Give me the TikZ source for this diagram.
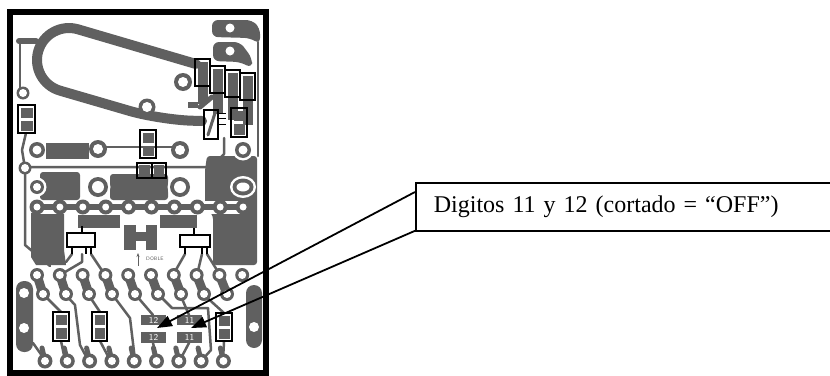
\documentclass[tikz,border=0pt]{standalone}
\usepackage{fontspec}
\setmainfont{Liberation Serif}
\usetikzlibrary{arrows.meta}
\definecolor{pcbgray}{RGB}{96,96,96}
\tikzset{
  track/.style={draw=pcbgray, line width=#1, line cap=round, line join=round},
  track/.default=2.5pt,
  partbox/.style={draw=black, line width=1.6pt},
  pointer/.style={draw=black, line width=1.8pt, -{Triangle[length=15pt,width=11pt]}},
  padtext/.style={text=white, font=\sffamily\fontsize{9}{9}\selectfont, inner sep=0pt},
}
% pad: gray ring (#3) and white hole (#4)
\newcommand{\pcbpad}[4]{%
  \fill[pcbgray] (#1,#2) circle (#3);
  \fill[white] (#1,#2) circle (#4);}
% pad with white clearance, for pads inside the copper pour
\newcommand{\pourpad}[4]{%
  \fill[white] (#1,#2) circle (#3+2.5);
  \pcbpad{#1}{#2}{#3}{#4}}
% smd part: two gray pads inside a black outline
\newcommand{\smdpart}[4]{%
  \fill[pcbgray] (#1+2.5,#2+2.5) rectangle (#3-2.5,#2/2+#4/2-1.5);
  \fill[pcbgray] (#1+2.5,#2/2+#4/2+1.5) rectangle (#3-2.5,#4-2.5);
  \draw[partbox] (#1,#2) rectangle (#3,#4);}

\begin{document}
\begin{tikzpicture}[x=1pt,y=-1pt]
\useasboundingbox (0,0) rectangle (830,375);

% copper pour
\fill[pcbgray] (31,213) -- (64,213) -- (64,250) -- (66,265) -- (36,265) -- (31,257) -- cycle;
\fill[pcbgray] (78,215) rectangle (120,228);
\fill[pcbgray] (160,215) rectangle (197,228);
\fill[pcbgray] (124,225) rectangle (136,250);
\fill[pcbgray] (146,225) rectangle (157,250);
\fill[pcbgray] (136,232) rectangle (146,241);
\fill[pcbgray, rounded corners=3pt] (207,156) -- (257,156) -- (257,265) -- (213,265) -- (213,216) -- (205,206) -- (205,170) -- cycle;
\fill[pcbgray, rounded corners=3pt] (40,172) -- (80,172) -- (80,200) -- (40,200) -- cycle;
\fill[pcbgray, rounded corners=3pt] (110,174) -- (168,174) -- (168,200) -- (110,200) -- cycle;
\fill[pcbgray] (46,143) rectangle (89,159);

% loop antenna
\draw[track=10pt, rounded corners=32pt] (196,64) -- (47.3,20.3) -- (29.3,81.7) -- (160,119.8) -- (202,121);
\draw[track=6pt] (36,41) -- (19,41);
\draw[track] (20,41) -- (20,88);

% thin tracks
\draw[track] (98,147) -- (180,147);
\draw[track] (30,167) -- (212,167) -- (224,154) -- (224,138);
\draw[track] (258,42) -- (258,156);
\draw[track] (26,133) -- (22,150) -- (25,168);
\draw[track] (25,172) -- (25,245) -- (50,266);
\draw[track=5pt] (200,107) -- (212,97);
\draw[track] (82,254) -- (82,262) -- (60,275);
\draw[track] (72,254) -- (66,262);
\draw[track] (91,254) -- (105,275);
\draw[track] (185,254) -- (173,275);
\draw[track] (202,254) -- (197,275);
\draw[track] (207,254) -- (220,275);
\draw[track] (43,294) -- (61,312);
\draw[track] (61,341) -- (65,360);
\draw[track] (88,294) -- (100,312);
\draw[track] (100,341) -- (110,360);
\draw[track] (135,294) -- (153,315);
\draw[track] (153,343) -- (157,360);
\draw[track] (180,294) -- (189,315);
\draw[track] (189,343) -- (180,360);
\draw[track] (203,294) -- (224,313);
\draw[track] (224,342) -- (223,360);
\draw[track] (65,294) -- (75,305) -- (80,345) -- (88,360);
\draw[track] (112,294) -- (130,318) -- (135,360);
\draw[track] (158,294) -- (172,308) -- (208,308) -- (211,350) -- (202,360);
\draw[track] (33,343) -- (45,360);

% top right pads
\fill[pcbgray, rounded corners=6pt] (212,20) -- (252,20) -- (260,28) -- (260,44) -- (250,38) -- (212,37) -- cycle;
\fill[pcbgray, rounded corners=6pt] (213,42) -- (240,42) -- (252,58) -- (252,68) -- (240,62) -- (213,61) -- cycle;
\fill[white] (230,28) circle (4.5);
\fill[white] (230,51) circle (4.5);
\pcbpad{183}{82}{9}{5}
\pcbpad{147}{107}{8.5}{5}
\fill[pcbgray] (188,102) rectangle (198,108);
\pcbpad{23}{93}{6.5}{4}

% pad rows
\pcbpad{37}{150}{8}{4.5}
\pcbpad{98}{149}{9}{5}
\pcbpad{180}{150}{9}{5}
\pourpad{243}{150}{8}{4.5}
\pcbpad{25}{168}{6.5}{4}
\pourpad{37}{187}{7}{4}
\pourpad{98}{187}{10}{6}
\pourpad{180}{187}{10}{6}
\fill[white] (243,187) ellipse (13 and 11);
\fill[pcbgray] (243,187) ellipse (10.5 and 8.5);
\fill[white] (243,187) ellipse (6.5 and 4.5);
\draw[white, line width=13pt, line cap=round] (37,207) -- (243,207);
\draw[track=6.5pt] (37,207) -- (243,207);
\foreach \i in {0,...,9} {
  \pcbpad{37+22.9*\i}{207}{7.5}{3.5}
}

% connector rows
\foreach \i in {0,...,8} {
  \draw[track=9pt] (37+22.8*\i,275) -- (43+23*\i,294);
  \draw[track=5pt] (45+22.3*\i,361) -- (42+22.3*\i,348);
}
\foreach \i in {0,...,9} {
  \pcbpad{37+22.8*\i}{275}{7}{4}
}
\foreach \i in {0,...,8} {
  \pcbpad{43+23*\i}{294}{7}{4}
  \pcbpad{45+22.3*\i}{361}{7.5}{4}
}
\fill[pcbgray, rounded corners=8pt] (16,281) rectangle (33,352);
\fill[white] (24,293) circle (5);
\fill[white] (24,328) circle (5);
\fill[pcbgray, rounded corners=8pt] (246,285) rectangle (262,348);
\fill[white] (254,327) circle (5);

% cut jumpers
\fill[pcbgray] (141,315) rectangle (166,325);
\fill[pcbgray] (141,332) rectangle (166,343);
\fill[pcbgray] (177,315) rectangle (202,325);
\fill[pcbgray] (177,332) rectangle (202,343);
\node[padtext] (j12a) at (153.5,320) {12};
\node[padtext] (j12b) at (153.5,337.5) {12};
\node[padtext] (j11a) at (189.5,320) {11};
\node[padtext] (j11b) at (189.5,337.5) {11};

% parts
\foreach \x/\y in {195/59, 210/66, 225/70, 240/73} {
  \smdpart{\x}{\y}{\x+15}{\y+27}
}
\smdpart{18}{105}{35}{133}
\smdpart{231}{108}{247}{137}
\draw[partbox] (204,110) rectangle (218,139);
\draw[track=3pt] (208,135) -- (215,113);
\foreach \y in {113,118,124} {\draw[line width=1pt] (218,\y) -- (226,\y);}
\smdpart{140}{130}{156}{158}
\fill[pcbgray] (139,165) rectangle (150,176);
\fill[pcbgray] (154,165) rectangle (164,176);
\draw[partbox] (137,163) rectangle (152,178);
\draw[partbox] (152,163) rectangle (166,178);
\smdpart{53}{312}{69}{341}
\smdpart{92}{312}{107}{341}
\smdpart{216}{313}{232}{341}

% transistors
\draw[partbox, fill=white] (67,233) rectangle (95,247);
\draw[line width=1.2pt] (82,226) -- (82,233) (72,247) -- (72,254) (86,247) -- (86,254) (91,247) -- (91,254);
\draw[partbox, fill=white] (180,235) rectangle (210,247);
\draw[line width=1.2pt] (194,228) -- (194,235) (185,247) -- (185,254) (202,247) -- (202,254) (207,247) -- (207,254);

% marking
\draw[pcbgray, line width=1pt, -{Stealth[length=4pt]}] (138,266) -- (138,253);
\node[text=pcbgray, font=\sffamily\fontsize{5}{5}\selectfont, inner sep=0pt, anchor=west] (doble) at (146,259) {DOBLE};

% board outline
\draw[line width=5.5pt] (10,12) rectangle (266,373);

% callout
\node[draw, line width=1.8pt, anchor=north west, minimum height=48pt, text width=384pt, inner xsep=18pt, align=left, font=\fontsize{24}{24}\selectfont] (nota) at (415,182) {Digitos 11 y 12 (cortado = “OFF”)};
\coordinate (cut12) at (157,328);
\coordinate (cut11) at (191,328);
\draw[pointer] ([yshift=-10pt]nota.north west) -- (cut12);
\draw[pointer] ([yshift=1pt]nota.south west) -- (cut11);
\end{tikzpicture}
\end{document}
